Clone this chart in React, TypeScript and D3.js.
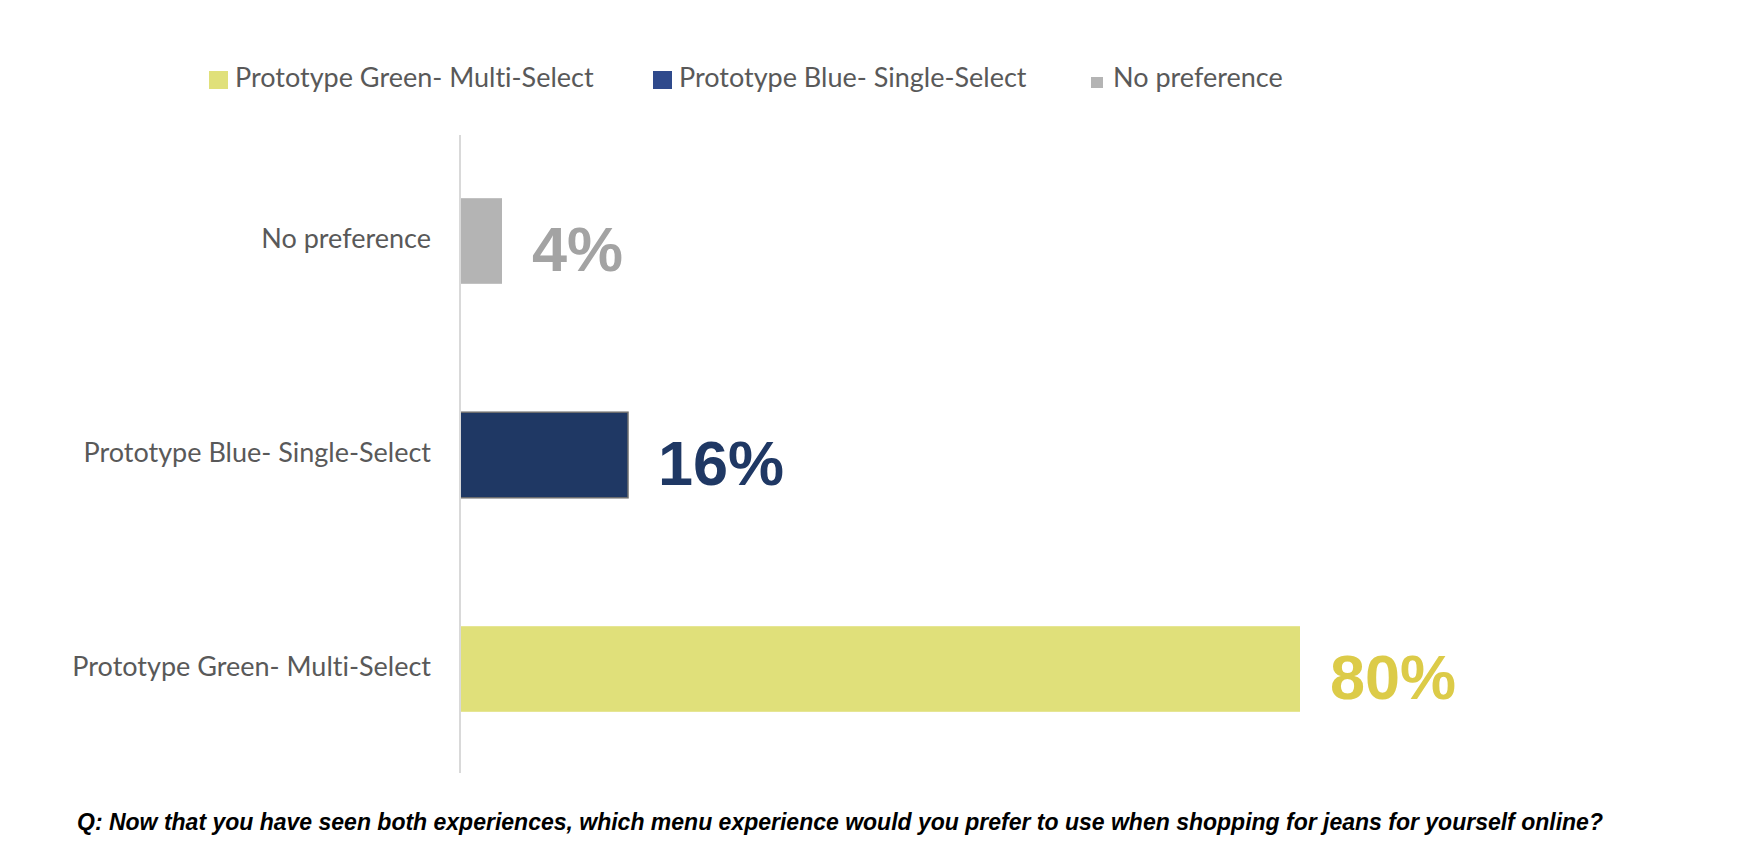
import React, { useEffect, useRef } from "react";
import * as d3 from "d3";

// survey results, top to bottom
const categories = ["No preference", "Prototype Blue- Single-Select", "Prototype Green- Multi-Select"];
const values = [4, 16, 80];

// legend order as drawn left to right
const legendLabels = ["Prototype Green- Multi-Select", "Prototype Blue- Single-Select", "No preference"];

const question =
  "Q: Now that you have seen both experiences, which menu experience would you prefer to use when shopping for jeans for yourself online?";

const barFill: Record<string, string> = {
  "No preference": "#b4b4b4",
  "Prototype Blue- Single-Select": "#1f3864",
  "Prototype Green- Multi-Select": "#e0e07a",
};
const labelFill: Record<string, string> = {
  "No preference": "#a3a3a3",
  "Prototype Blue- Single-Select": "#1f3864",
  "Prototype Green- Multi-Select": "#dccb48",
};
const legendFill: Record<string, string> = {
  "No preference": "#b4b4b4",
  "Prototype Blue- Single-Select": "#2f4a8c",
  "Prototype Green- Multi-Select": "#e0e07a",
};

function App() {
  const ref = useRef<SVGSVGElement | null>(null);

  useEffect(() => {
    document.body.style.margin = "0";
    const width = 1752,
      height = 868;

    const svg = d3.select(ref.current).attr("width", width).attr("height", height);
    svg.selectAll("*").remove();

    svg.append("rect").attr("width", width).attr("height", height).attr("fill", "white");

    const x = d3.scaleLinear().domain([0, 100]).range([460, 1510]);
    const y = d3.scaleBand().domain(categories).range([134, 776]).paddingInner(0.6).paddingOuter(0.3);

    // bars
    svg
      .selectAll("rect.bar")
      .data(categories)
      .join("rect")
      .attr("class", "bar")
      .attr("x", x(0))
      .attr("y", (d) => y(d)!)
      .attr("width", (d, i) => x(values[i]) - x(0))
      .attr("height", y.bandwidth())
      .attr("fill", (d) => barFill[d])
      .attr("stroke", (d) => (d === "Prototype Blue- Single-Select" ? "#6f6f6f" : "none"))
      .attr("stroke-width", 1.5);

    // vertical axis line
    svg
      .append("line")
      .attr("x1", x(0))
      .attr("x2", x(0))
      .attr("y1", 135)
      .attr("y2", 773)
      .attr("stroke", "#d9d9d9")
      .attr("stroke-width", 2);

    // category labels
    svg
      .selectAll("text.cat")
      .data(categories)
      .join("text")
      .attr("class", "cat")
      .attr("x", 431)
      .attr("y", (d) => y(d)! + y.bandwidth() / 2 + 7)
      .attr("text-anchor", "end")
      .style("font-family", "Lato, 'Open Sans', sans-serif")
      .style("font-size", "27px")
      .style("font-variant-ligatures", "none")
      .attr("fill", "#595959")
      .text((d) => d);

    // value labels
    svg
      .selectAll("text.val")
      .data(categories)
      .join("text")
      .attr("class", "val")
      .attr("x", (d, i) => x(values[i]) + 30)
      .attr("y", (d) => y(d)! + y.bandwidth() / 2 + 30)
      .style("font-family", "'Liberation Sans', Arial, sans-serif")
      .style("font-weight", "bold")
      .style("font-size", "63px")
      .attr("fill", (d) => labelFill[d])
      .text((d, i) => values[i] + "%");

    // legend
    const legendX = [209, 653, 1091];
    const legend = svg
      .selectAll("g.legend")
      .data(legendLabels)
      .join("g")
      .attr("class", "legend")
      .attr("transform", (d, i) => `translate(${legendX[i]}, 80)`);

    legend
      .append("rect")
      .attr("y", (d) => (d === "No preference" ? -3 : -9))
      .attr("width", (d) => (d === "No preference" ? 12 : 19))
      .attr("height", (d) => (d === "No preference" ? 11 : 18))
      .attr("fill", (d) => legendFill[d]);

    legend
      .append("text")
      .attr("x", (d) => (d === "No preference" ? 22 : 26))
      .attr("y", 7)
      .style("font-family", "Lato, 'Open Sans', sans-serif")
      .style("font-size", "27px")
      .style("font-variant-ligatures", "none")
      .attr("fill", "#595959")
      .text((d) => d);

    // question footnote
    svg
      .append("text")
      .attr("x", 77)
      .attr("y", 830)
      .style("font-family", "'Liberation Sans', Arial, sans-serif")
      .style("font-weight", "bold")
      .style("font-style", "italic")
      .style("font-size", "23px")
      .attr("fill", "#000")
      .text(question);
  }, []);

  return <svg ref={ref} style={{ display: "block" }} />;
}

export default App;
